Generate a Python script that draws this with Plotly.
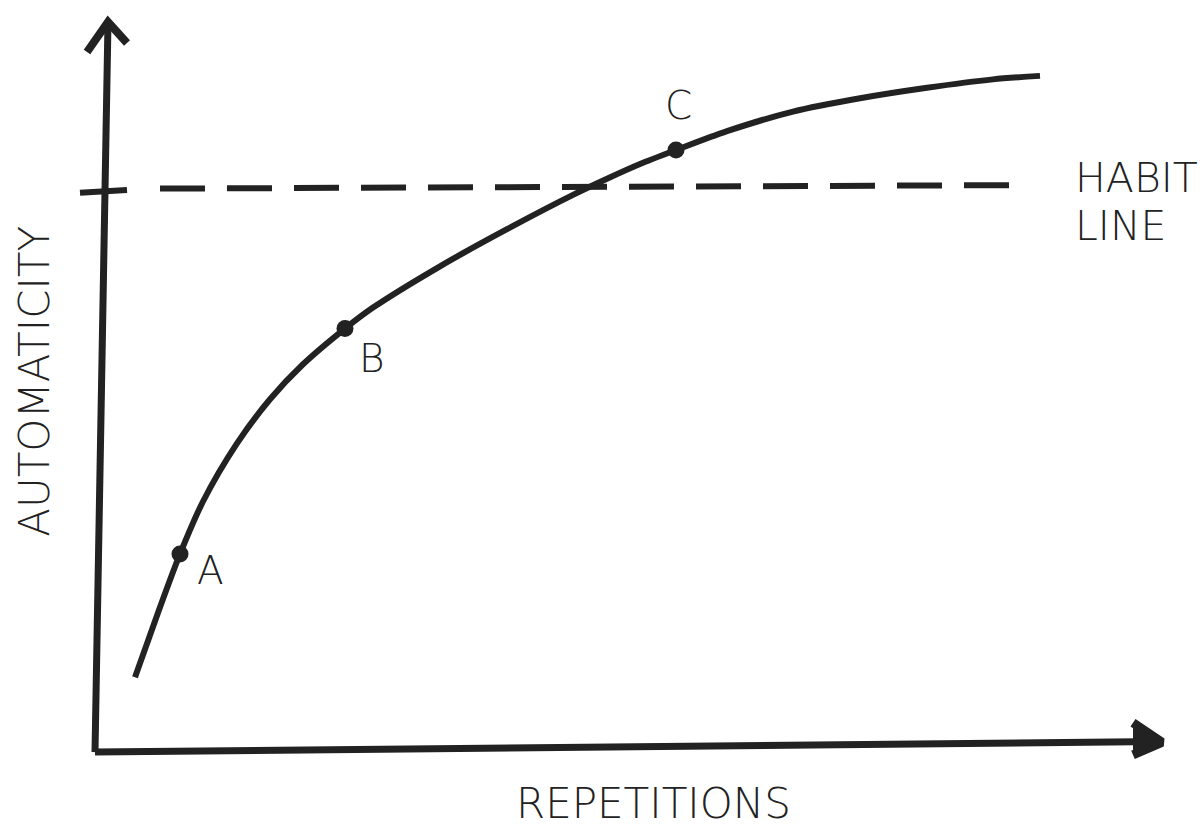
import plotly.graph_objects as go

# ---- data (repetitions vs automaticity, arbitrary units) ----
repetitions = [4.0, 6.3, 8.5, 10.8, 14.2, 17.5, 20.8, 25.0, 27.8, 34.5, 41.2,
               47.8, 51.2, 54.5, 58.1, 63.2, 69.8, 76.5, 83.2, 89.8, 94.5]
automaticity = [10.4, 19.6, 28.0, 35.5, 43.8, 50.1, 55.1, 60.2, 63.2, 69.1, 74.4,
                79.3, 81.6, 83.7, 85.7, 88.4, 91.2, 93.1, 94.6, 95.8, 96.3]

point_labels = ["A", "B", "C"]
point_x = [8.5, 25.0, 58.1]
point_y = [28.0, 60.2, 85.7]

habit_start = [-1.5, 80.0]
habit_end = [93.5, 80.7]

x_axis_label = "REPETITIONS"
y_axis_label = "AUTOMATICITY"
habit_label_lines = ["HABIT", "LINE"]

INK = "#222222"
FONT = "DejaVu Sans"
FW = 200

# axis decoration (hand-drawn look)
y_axis_line = dict(x=[0, 1.3], y=[-0.3, 104.0])
y_arrow = dict(x=[-0.8, 1.3, 3.2], y=[99.7, 104.0, 101.0])
x_axis_line = dict(x=[0, 106.5], y=[-0.3, 1.2])
x_arrow = dict(x=[103.8, 106.7, 103.8], y=[3.9, 1.1, -0.7])

fig = go.Figure()

fig.add_trace(go.Scatter(**y_axis_line, mode="lines",
                         line=dict(color=INK, width=7), hoverinfo="skip"))
fig.add_trace(go.Scatter(**y_arrow, mode="lines",
                         line=dict(color=INK, width=8), hoverinfo="skip"))
fig.add_trace(go.Scatter(**x_axis_line, mode="lines",
                         line=dict(color=INK, width=7), hoverinfo="skip"))
fig.add_trace(go.Scatter(**x_arrow, mode="lines", fill="toself", fillcolor=INK,
                         line=dict(color=INK, width=9), hoverinfo="skip"))

# habit line: short solid tick across the y axis, then a dashed line
fig.add_trace(go.Scatter(x=[habit_start[0], 3.2], y=[habit_start[1] - 0.4, habit_start[1]],
                         mode="lines", line=dict(color=INK, width=6), hoverinfo="skip"))
fig.add_trace(go.Scatter(x=[6.5, habit_end[0]], y=[habit_start[1] + 0.2, habit_end[1]],
                         mode="lines", line=dict(color=INK, width=6, dash="45px,22px"),
                         hoverinfo="skip"))

# the curve
fig.add_trace(go.Scatter(x=repetitions, y=automaticity, mode="lines",
                         line=dict(color=INK, width=6, shape="spline", smoothing=0.8),
                         hoverinfo="skip"))

# points A, B, C
fig.add_trace(go.Scatter(x=point_x, y=point_y, mode="markers",
                         marker=dict(color=INK, size=17), hoverinfo="skip"))

label_offsets = [(3.0, -2.4), (2.7, -4.3), (0.2, 6.4)]
for lab, px, py, (dx, dy) in zip(point_labels, point_x, point_y, label_offsets):
    fig.add_annotation(x=px + dx, y=py + dy, text=lab, showarrow=False,
                       font=dict(family=FONT, size=39, color=INK, weight=FW))

# habit label (two lines)
for txt, yy in zip(habit_label_lines, [81.7, 74.8]):
    fig.add_annotation(x=97.8, y=yy, text=txt, showarrow=False, xanchor="left",
                       font=dict(family=FONT, size=41, color=INK, weight=FW))

# axis titles
fig.add_annotation(x=55.85, y=-7.7, text=x_axis_label, showarrow=False,
                   font=dict(family=FONT, size=42, color=INK, weight=FW))
fig.add_annotation(x=-6.0, y=52.6, text=y_axis_label, showarrow=False, textangle=-90,
                   font=dict(family=FONT, size=42, color=INK, weight=FW))

fig.update_layout(
    width=1200, height=827,
    margin=dict(l=0, r=0, t=0, b=0),
    paper_bgcolor="white", plot_bgcolor="white",
    showlegend=False,
    xaxis=dict(range=[-9.5, 110.5], visible=False, fixedrange=True),
    yaxis=dict(range=[-11.0, 107.14], visible=False, fixedrange=True),
)

fig.write_html("out.html", config={"displayModeBar": False},
               post_script="document.body.style.margin='0';")
